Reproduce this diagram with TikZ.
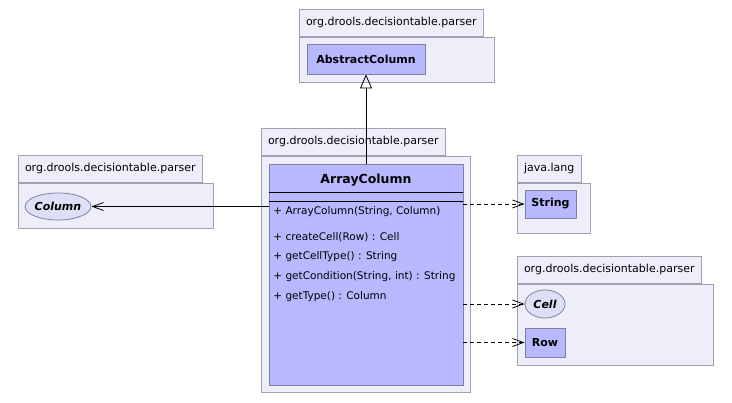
\documentclass[tikz,border=0pt]{standalone}
\usepackage{fontspec}
\setmainfont{DejaVu Sans}
\usepackage{xcolor}
\usepackage{tikz}
\usetikzlibrary{arrows.meta,shapes.geometric}

\definecolor{pkgfill}{RGB}{238,238,250}
\definecolor{pkgline}{RGB}{160,160,176}
\definecolor{clsfill}{RGB}{184,184,255}
\definecolor{clsline}{RGB}{128,128,164}
\definecolor{ifcfill}{RGB}{222,222,246}

\begin{document}
\begin{tikzpicture}[x=1pt, y=-1pt, line width=0.8pt,
        pkg/.style={rectangle, draw=pkgline, fill=pkgfill, inner sep=0pt},
        pkgtab/.style={rectangle, draw=pkgline, fill=pkgfill, anchor=south west, minimum height=27pt, inner xsep=7pt, inner ysep=0pt, font=\fontsize{11}{13}\selectfont},
        cls/.style={rectangle, draw=clsline, fill=clsfill, inner sep=0pt, font=\fontsize{11}{13}\selectfont\bfseries},
        ifc/.style={ellipse, draw=clsline, fill=ifcfill, inner sep=0pt, font=\fontsize{11}{13}\selectfont\bfseries\itshape},
        member/.style={anchor=west, inner sep=0pt, font=\fontsize{10.5}{12}\selectfont},
        gen/.style={-{Triangle[open, length=14pt, width=12pt]}},
        assoc/.style={-{Straight Barb[length=11pt, width=8pt]}},
        dep/.style={-{Straight Barb[length=11pt, width=8pt]}, dash pattern=on 4pt off 3pt}
    ]
        \useasboundingbox (0,0) rectangle (732,403);

        % Packages
        \node[pkg, minimum width=195pt, minimum height=45pt] (pkgtop) at (396.5,59.5) {};
        \node[pkgtab] (tabtop) at (pkgtop.north west) {org.drools.decisiontable.parser};
        \node[pkg, minimum width=195pt, minimum height=45pt] (pkgleft) at (115.5,205.5) {};
        \node[pkgtab] (tableft) at (pkgleft.north west) {org.drools.decisiontable.parser};
        \node[pkg, minimum width=209pt, minimum height=236pt] (pkgmid) at (365.5,274) {};
        \node[pkgtab] (tabmid) at (pkgmid.north west) {org.drools.decisiontable.parser};
        \node[pkg, minimum width=73pt, minimum height=50pt] (pkglang) at (553.5,208) {};
        \node[pkgtab] (tablang) at (pkglang.north west) {java.lang};
        \node[pkg, minimum width=196pt, minimum height=81pt] (pkgright) at (615,324.5) {};
        \node[pkgtab] (tabright) at (pkgright.north west) {org.drools.decisiontable.parser};

        % Classes
        \node[cls, minimum width=118pt, minimum height=30pt] (abs) at (366,59) {AbstractColumn};
        \node[ifc, minimum width=66pt, minimum height=27pt] (col) at (58,206.5) {Column};
        \node[cls, minimum width=51pt, minimum height=28pt] (str) at (550.5,204) {String};
        \node[ifc, minimum width=40pt, minimum height=28pt] (cell) at (545,304) {Cell};
        \node[cls, minimum width=40pt, minimum height=29pt] (row) at (545,342.5) {Row};

        % ArrayColumn
        \node[cls, minimum width=194pt, minimum height=221pt] (ac) at (366,274.5) {};
        \node[font=\fontsize{12.5}{14}\selectfont\bfseries] (acname) at (366,180) {ArrayColumn};
        \draw (ac.west |- 0,192) -- (ac.east |- 0,192);
        \draw (ac.west |- 0,201) -- (ac.east |- 0,201);
        \node[member] (m1) at (273,212) {+ ArrayColumn(String, Column)};
        \node[member] (m2) at (273,237) {+ createCell(Row) : Cell};
        \node[member] (m3) at (273,257) {+ getCellType() : String};
        \node[member] (m4) at (273,277) {+ getCondition(String, int) : String};
        \node[member] (m5) at (273,297) {+ getType() : Column};

        % Arrows
        \draw[gen] (ac.north) -- (abs.south);
        \draw[assoc] (ac.west |- col.east) -- (col.east);
        \draw[dep] (ac.east |- str.west) -- (str.west);
        \draw[dep] (ac.east |- cell.west) -- (cell.west);
        \draw[dep] (ac.east |- row.west) -- (row.west);
    \end{tikzpicture}
\end{document}
